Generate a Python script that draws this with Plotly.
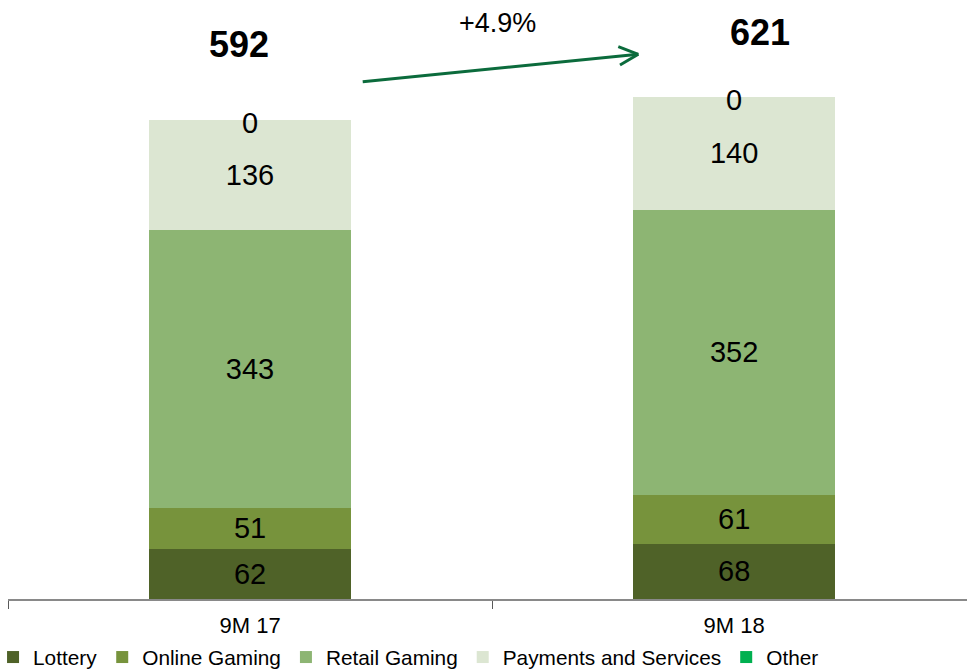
import plotly.graph_objects as go

# Revenue breakdown by segment (EUR m)
periods = ["9M 17", "9M 18"]
segments = ["Lottery", "Online Gaming", "Retail Gaming", "Payments and Services", "Other"]
lottery = [62, 68]
online_gaming = [51, 61]
retail_gaming = [343, 352]
payments_services = [136, 140]
other = [0, 0]
growth_label = "+4.9%"

series = [lottery, online_gaming, retail_gaming, payments_services, other]
colors = ["#4f6228", "#77933c", "#8db573", "#dce6d2", "#00b050"]
totals = [sum(v) for v in zip(*series)]

FONT = "Liberation Sans, Arial, sans-serif"

fig = go.Figure()
for name, vals, col in zip(segments, series, colors):
    show_text = name != "Other"
    fig.add_trace(go.Bar(
        x=periods,
        y=vals,
        name=name,
        marker=dict(color=col, line=dict(width=0)),
        width=0.417,
        text=[str(v) for v in vals] if show_text else None,
        textposition="inside" if show_text else "none",
        insidetextanchor="middle",
        constraintext="none",
        textfont=dict(family=FONT, size=29, color="black"),
        hoverinfo="name+y",
    ))

# zero-value "Other" labels sit at the top of each stack
for p, t, v in zip(periods, totals, other):
    fig.add_annotation(x=p, y=t, xref="x", yref="y", text=str(v), showarrow=False,
                       yanchor="middle", yshift=-3,
                       font=dict(family=FONT, size=29, color="black"))

# bold totals above the bars
total_pos = [(-11, 0.925), (26, 0.946)]
for p, t, (dx, py) in zip(periods, totals, total_pos):
    fig.add_annotation(x=p, y=py, xref="x", yref="paper", text=f"<b>{t}</b>",
                       showarrow=False, xshift=dx, yanchor="middle",
                       font=dict(family=FONT, size=36, color="black"))

# growth arrow between the two periods
W, H = 967, 670
L_M, B_M = 8, 71
PW, PH = W - L_M, H - B_M


def px(xp):
    return (xp - L_M) / PW


def py_(yp):
    return (H - B_M - yp) / PH


arrow_col = "#0b6b3c"
segs = [
    ((362.7, 81.7), (638.3, 54.3)),
    ((618.3, 46.7), (638.3, 54.3)),
    ((620.0, 65.0), (638.3, 54.3)),
]
for (x0, y0), (x1, y1) in segs:
    fig.add_shape(type="line", xref="paper", yref="paper",
                  x0=px(x0), y0=py_(y0), x1=px(x1), y1=py_(y1),
                  line=dict(color=arrow_col, width=3))

fig.add_annotation(x=px(497.5), y=py_(23), xref="paper", yref="paper",
                   text=growth_label, showarrow=False, yanchor="middle",
                   font=dict(family=FONT, size=27, color="black"))

fig.update_layout(
    width=W, height=H,
    barmode="stack",
    bargap=0.583,
    margin=dict(l=L_M, r=0, t=0, b=B_M, autoexpand=False),
    paper_bgcolor="white",
    plot_bgcolor="white",
    font=dict(family=FONT, color="black"),
    showlegend=True,
    legend=dict(
        orientation="h",
        traceorder="normal",
        x=-0.0156, xanchor="left",
        y=-0.0977, yanchor="middle",
        font=dict(family=FONT, size=20.8, color="black"),
        itemwidth=30,
        bgcolor="rgba(0,0,0,0)",
    ),
    xaxis=dict(
        type="category",
        range=[-0.5, 1.481],
        showline=True, linecolor="#898989", linewidth=2,
        ticks="outside", tickson="boundaries", ticklen=8,
        tickcolor="#595959", tickwidth=1,
        tickfont=dict(family=FONT, size=22, color="black"),
        showgrid=False, zeroline=False,
        ticklabelstandoff=6,
    ),
    yaxis=dict(
        range=[0, 740.3],
        visible=False,
        showgrid=False, zeroline=False,
    ),
)

fig.write_html("out.html")
